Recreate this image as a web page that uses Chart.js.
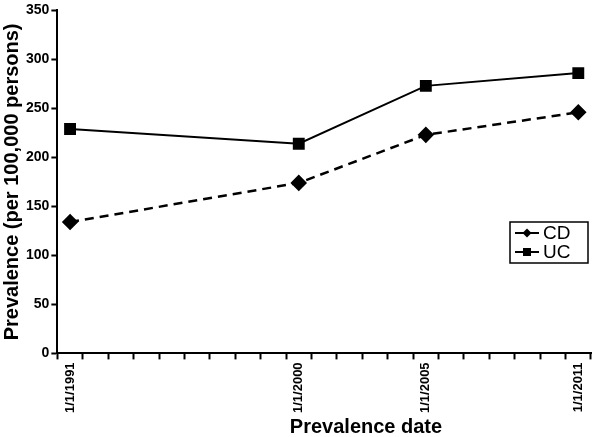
<!DOCTYPE html>
<html>
<head>
<meta charset="utf-8">
<script src="https://cdn.jsdelivr.net/npm/chart.js@4"></script>
<style>
  html, body { margin: 0; padding: 0; background: #fff; }
  #wrap { width: 600px; height: 437px; }
</style>
</head>
<body>
<div id="wrap"><canvas id="lineChart" width="600" height="437"></canvas></div>
<script>
// one category per year, labels only where the original shows them
const dateLabels = ['1/1/1991','','','','','','','','','1/1/2000','','','','','1/1/2005','','','','','','1/1/2011'];
const cdValues = [134,null,null,null,null,null,null,null,null,174,null,null,null,null,223,null,null,null,null,null,246];
const ucValues = [229,null,null,null,null,null,null,null,null,214,null,null,null,null,273,null,null,null,null,null,286];
const yTicks = [0, 50, 100, 150, 200, 250, 300, 350];
const xTitle = 'Prevalence date';

const FONT = "'Liberation Sans', Arial, Helvetica, sans-serif";

// legend box inside the plot area + x title a bit right of centre (as in original)
const extras = {
    id: 'extras',
    afterDraw(chart) {
        const ctx = chart.ctx;
        ctx.save();
        ctx.fillStyle = '#000';
        ctx.font = 'bold 20px ' + FONT;
        ctx.textAlign = 'center';
        ctx.textBaseline = 'alphabetic';
        ctx.fillText(xTitle, 366, 433);

        const x = 510, y = 222, w = 78, h = 41;
        ctx.fillStyle = '#fff';
        ctx.fillRect(x, y, w, h);
        ctx.strokeStyle = '#000';
        ctx.lineWidth = 1.5;
        ctx.strokeRect(x, y, w, h);
        ctx.font = '19px ' + FONT;
        ctx.textAlign = 'left';
        ctx.textBaseline = 'middle';
        chart.data.datasets.forEach((ds, i) => {
            const cy = y + 11 + i * 19;
            ctx.strokeStyle = '#000';
            ctx.lineWidth = 2;
            ctx.beginPath();
            ctx.moveTo(x + 5, cy);
            ctx.lineTo(x + 29, cy);
            ctx.stroke();
            ctx.fillStyle = '#000';
            if (ds.pointStyle === 'rectRot') {
                ctx.beginPath();
                ctx.moveTo(x + 17, cy - 4.5);
                ctx.lineTo(x + 21.5, cy);
                ctx.lineTo(x + 17, cy + 4.5);
                ctx.lineTo(x + 12.5, cy);
                ctx.closePath();
                ctx.fill();
            } else {
                ctx.fillRect(x + 13, cy - 4, 8, 8);
            }
            ctx.fillText(ds.label, x + 33, cy + 1);
        });
        ctx.restore();
    }
};

const el = document.getElementById('lineChart');
if (el) {
    new Chart(el, {
        type: 'line',
        data: {
            labels: dateLabels,
            datasets: [{
                label: 'CD',
                data: cdValues,
                borderColor: '#000',
                backgroundColor: '#000',
                borderWidth: 2.5,
                borderDash: [9, 6],
                pointStyle: 'rectRot',
                pointRadius: 6.5,
                spanGaps: true,
                tension: 0
            }, {
                label: 'UC',
                data: ucValues,
                borderColor: '#000',
                backgroundColor: '#000',
                borderWidth: 2,
                pointStyle: 'rect',
                pointRadius: 7,
                spanGaps: true,
                tension: 0
            }]
        },
        options: {
            responsive: false,
            animation: false,
            layout: { padding: { top: 5, right: 2, left: 0, bottom: 21 } },
            plugins: {
                legend: { display: false },
                tooltip: { enabled: false }
            },
            scales: {
                x: {
                    offset: true,
                    grid: {
                        offset: true,
                        drawOnChartArea: false,
                        drawTicks: true,
                        tickLength: 6,
                        tickColor: '#000',
                        tickWidth: 2
                    },
                    border: { color: '#000', width: 2 },
                    ticks: {
                        autoSkip: false,
                        minRotation: 90,
                        maxRotation: 90,
                        color: '#000',
                        padding: 3,
                        font: { family: FONT, size: 13, weight: 'bold' }
                    }
                },
                y: {
                    min: yTicks[0],
                    max: yTicks[yTicks.length - 1],
                    afterBuildTicks: (axis) => { axis.ticks = yTicks.map(v => ({ value: v })); },
                    grid: {
                        drawOnChartArea: false,
                        drawTicks: true,
                        tickLength: 6,
                        tickColor: '#000',
                        tickWidth: 2
                    },
                    border: { color: '#000', width: 2 },
                    ticks: {
                        color: '#000',
                        padding: 2,
                        font: { family: FONT, size: 14, weight: 'bold' }
                    },
                    title: {
                        display: true,
                        text: 'Prevalence (per 100,000 persons)',
                        color: '#000',
                        padding: { top: 0, bottom: 0 },
                        font: { family: FONT, size: 20, weight: 'bold' }
                    }
                }
            }
        },
        plugins: [extras]
    });
}
</script>
</body>
</html>
